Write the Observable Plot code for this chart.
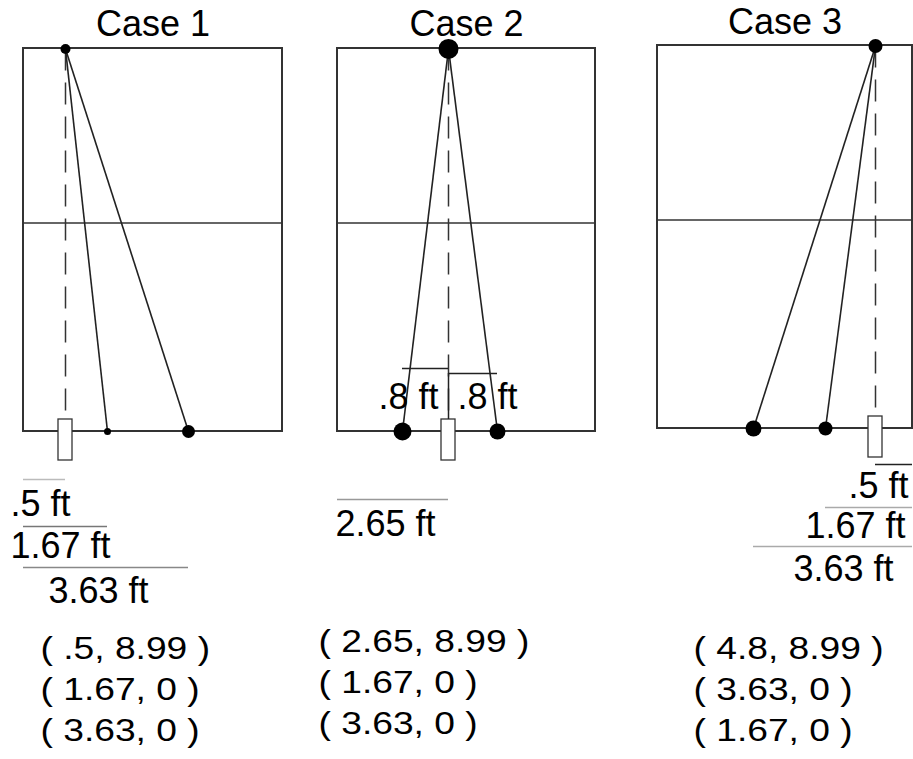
<!DOCTYPE html>
<html>
<head>
<meta charset="utf-8">
<script src="https://cdn.jsdelivr.net/npm/d3@7"></script>
<script src="https://cdn.jsdelivr.net/npm/@observablehq/plot@0.6"></script>
<style>
  html, body { margin: 0; padding: 0; background: #fff; }
  #chart { position: relative; width: 913px; height: 759px; overflow: hidden; }
  #chart svg { position: absolute; left: 0; top: 0; }
</style>
</head>
<body>
<div id="chart"></div>
<script>
// ---- data (feet) ----
const caseNames = ["Case 1", "Case 2", "Case 3"];
const courtWidth = 5.3;
const courtLength = 9;
const midlineY = 4.9;
const topX = [0.5, 2.65, 4.8];
const topY = [8.99, 8.99, 8.99];
const bottomX = [[1.67, 3.63], [1.67, 3.63], [3.63, 1.67]];
const bottomY = [[0, 0], [0, 0], [0, 0]];
const dimValue = [[0.5, 1.67, 3.63], [2.65, 0.8, 0.8], [0.5, 1.67, 3.63]];
const dimFrom  = [[0, 0, 0], [0, 1.67, 2.65], [4.8, 3.63, 1.67]];
const dimTo    = [[0.5, 1.67, 3.63], [2.65, 2.65, 3.63], [5.3, 5.3, 5.3]];

// ---- layout / style per panel (the sketch is not drawn to scale) ----
const layout = [
  { frame: [23, 282, 48, 431], xPix: [23, 65, 107, 188, 282], topR: 5, bottomR: [3.5, 6.5], titleDy: -13,
    dimRuleDy: [48, 95, 136], dimTextDy: [84, 126, 171], dimAnchor: ["start", "start", "start"], dimDx: [-13, -13, 25],
    dimStroke: ["#bbb", "#777", "#888"], dimTick: [null, null, null], coordDx: 17, coordDy: 309 },
  { frame: [337, 595, 48, 431], xPix: [337, 402, 448, 497, 595], topR: 10, bottomR: [9, 8], titleDy: -13,
    dimRuleDy: [68, -63, -58], dimTextDy: [104, -23, -23], dimAnchor: ["start", "end", "start"], dimDx: [-2, -10, 9],
    dimStroke: ["#999", "#222", "#222"], dimTick: [null, null, [-58, -12]], coordDx: -19, coordDy: 302 },
  { frame: [657, 912, 45, 428], xPix: [657, 753, 825, 875, 912], topR: 7, bottomR: [7, 8], titleDy: -12,
    dimRuleDy: [36, 79, 118], dimTextDy: [69, 109, 152], dimAnchor: ["end", "end", "end"], dimDx: [-4, -7, -19],
    dimStroke: ["#222", "#aaa", "#aaa"], dimTick: [null, null, null], coordDx: 36, coordDy: 312 }
];

const W = 913, H = 759;
const fmt = v => String(v).replace(/^0\./, ".");
const font = "Liberation Sans, Arial, Helvetica, sans-serif";
const chart = document.getElementById("chart");

caseNames.forEach((name, i) => {
  const L = layout[i];
  const knots = Array.from(new Set([0, topX[i], ...bottomX[i], courtWidth])).sort((a, b) => a - b);
  const court = [{x1: 0, x2: courtWidth, y1: 0, y2: courtLength}];
  const shots = bottomX[i].map((bx, j) => ({x1: topX[i], y1: topY[i], x2: bx, y2: bottomY[i][j]}));
  const coordLines = [[topX[i], topY[i]], ...bottomX[i].map((bx, j) => [bx, bottomY[i][j]])]
    .map(([x, y]) => `( ${fmt(x)}, ${fmt(y)} )`).join("\n");

  const marks = [
    Plot.rect(court, {x1: "x1", x2: "x2", y1: "y1", y2: "y2", fill: "none", stroke: "#333", strokeWidth: 2}),
    Plot.ruleY([midlineY], {x1: 0, x2: courtWidth, stroke: "#333", strokeWidth: 1.6}),
    Plot.ruleX([topX[i]], {y1: topY[i], y2: 0, insetBottom: 12, stroke: "#333", strokeWidth: 1.5, strokeDasharray: "22,12"}),
    Plot.link(shots, {x1: "x1", y1: "y1", x2: "x2", y2: "y2", stroke: "#222", strokeWidth: 1.6}),
    Plot.rect([topX[i]], {x1: d => d, x2: d => d, y1: 0, y2: 0, insetLeft: -7, insetRight: -7, insetTop: -12, insetBottom: -29,
      fill: "white", stroke: "#333", strokeWidth: 1.3}),
    Plot.dot([{x: topX[i], y: topY[i]}], {x: "x", y: "y", r: L.topR, fill: "black"}),
    ...bottomX[i].map((bx, j) => Plot.dot([{x: bx, y: bottomY[i][j]}], {x: "x", y: "y", r: L.bottomR[j], fill: "black"})),
    Plot.text([name], {frameAnchor: "top", dy: L.titleDy, lineAnchor: "bottom", textAnchor: "middle", fontSize: 36, fill: "black"})
  ];

  dimValue[i].forEach((v, j) => {
    marks.push(Plot.ruleY([0], {x1: dimFrom[i][j], x2: dimTo[i][j], dy: L.dimRuleDy[j], stroke: L.dimStroke[j], strokeWidth: 1.5}));
    if (L.dimTick[j]) {
      marks.push(Plot.ruleX([dimFrom[i][j]], {y1: 0, y2: 0, insetTop: L.dimTick[j][0], insetBottom: -L.dimTick[j][1], stroke: "#222", strokeWidth: 1.5}));
    }
    const ax = L.dimAnchor[j] === "end" ? dimTo[i][j] : dimFrom[i][j];
    marks.push(Plot.text([`${fmt(v)} ft`], {x: ax, y: 0, dx: L.dimDx[j], dy: L.dimTextDy[j], textAnchor: L.dimAnchor[j],
      lineAnchor: "bottom", fontSize: 36, fill: "black"}));
  });

  marks.push(Plot.text([coordLines], {frameAnchor: "bottom-left", dx: L.coordDx, dy: L.coordDy, textAnchor: "start",
    lineAnchor: "bottom", lineHeight: 1.32, fontSize: 31, fill: "black"}));

  const svg = Plot.plot({
    width: W, height: H,
    marginLeft: L.frame[0], marginRight: W - L.frame[1], marginTop: L.frame[2], marginBottom: H - L.frame[3],
    x: {type: "linear", domain: knots, range: L.xPix, axis: null},
    y: {type: "linear", domain: [0, courtLength], axis: null},
    style: {background: "transparent", overflow: "visible", fontFamily: font},
    marks
  });
  // the coordinate lists are drawn horizontally stretched in the original
  svg.querySelectorAll("text").forEach(t => {
    if (t.textContent.trim().startsWith("(")) {
      t.setAttribute("transform", (t.getAttribute("transform") || "") + " scale(1.2,1)");
    }
  });
  chart.appendChild(svg);
});
</script>
</body>
</html>
